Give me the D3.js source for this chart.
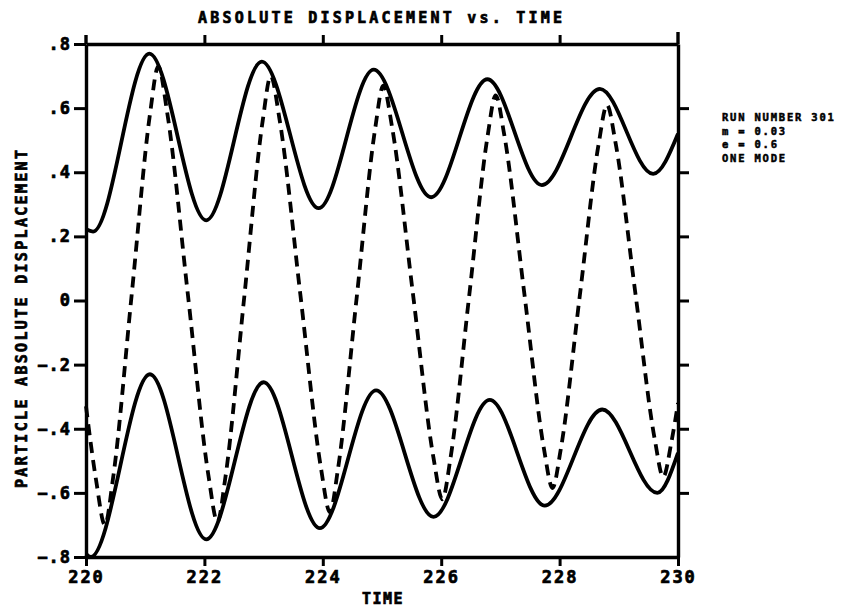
<!DOCTYPE html>
<html>
<head>
<meta charset="utf-8">
<script src="https://cdn.jsdelivr.net/npm/d3@7"></script>
<style>
  body { margin: 0; background: #fff; }
  text { font-family: "DejaVu Sans Mono", monospace; font-weight: bold; fill: #000; stroke: #000; stroke-width: 0.7px; }
</style>
</head>
<body>
<svg id="chart" width="843" height="611"></svg>
<script>
// time ticks and displacement ticks
var timeTicks = [220, 222, 224, 226, 228, 230];
var dispTicks = [-0.8, -0.6, -0.4, -0.2, 0, 0.2, 0.4, 0.6, 0.8];

// upper envelope (solid)
var upperTime = [220.00, 220.12, 221.07, 222.03, 222.97, 223.93, 224.86, 225.83, 226.78, 227.70, 228.68, 229.58, 230.00];
var upperDisp = [0.222, 0.215, 0.77, 0.25, 0.745, 0.288, 0.72, 0.322, 0.69, 0.36, 0.66, 0.395, 0.52];

// lower envelope (solid)
var lowerTime = [220.00, 220.08, 221.08, 222.03, 223.00, 223.95, 224.90, 225.87, 226.82, 227.75, 228.72, 229.65, 230.00];
var lowerDisp = [-0.79, -0.80, -0.23, -0.745, -0.255, -0.71, -0.28, -0.675, -0.31, -0.64, -0.34, -0.60, -0.475];

// particle displacement (dashed)
var partTime = [220.00, 220.17, 220.32, 220.455, 220.77, 221.085, 221.22, 221.37, 221.72, 222.07, 222.22,
                222.355, 222.67, 222.985, 223.12, 223.27, 223.62, 223.97, 224.12,
                224.255, 224.57, 224.885, 225.02, 225.17, 225.52, 225.87, 226.02,
                226.155, 226.47, 226.785, 226.92, 227.064, 227.40, 227.736, 227.88,
                228.018, 228.34, 228.662, 228.80, 228.943, 229.275, 229.608, 229.75,
                229.89, 230.00];
var partDisp = [-0.33, -0.56, -0.70, -0.557, 0.015, 0.587, 0.73, 0.588, 0.02, -0.548, -0.69,
                -0.551, 0.005, 0.561, 0.70, 0.564, 0.02, -0.524, -0.66,
                -0.527, 0.005, 0.537, 0.67, 0.541, 0.025, -0.491, -0.62,
                -0.494, 0.01, 0.514, 0.64, 0.518, 0.028, -0.463, -0.585,
                -0.466, 0.013, 0.491, 0.61, 0.494, 0.03, -0.434, -0.55,
                -0.44, -0.32];

var legendLines = ["RUN NUMBER 301", "m = 0.03", "e = 0.6", "ONE MODE"];

var svg = d3.select("svg#chart");

var x = d3.scaleLinear().domain([220, 230]).range([86, 678]);
var y = d3.scaleLinear().domain([-0.8, 0.8]).range([557, 44]);

function zip(ts, vs) { return ts.map(function(t, i) { return [t, vs[i]]; }); }

var line = d3.line()
    .x(function(d) { return x(d[0]); })
    .y(function(d) { return y(d[1]); })
    .curve(d3.curveMonotoneX);

// curves
svg.append("path").datum(zip(upperTime, upperDisp))
    .attr("d", line).attr("fill", "none").attr("stroke", "#000").attr("stroke-width", 3.8);
svg.append("path").datum(zip(lowerTime, lowerDisp))
    .attr("d", line).attr("fill", "none").attr("stroke", "#000").attr("stroke-width", 3.8);
svg.append("path").datum(zip(partTime, partDisp))
    .attr("d", line).attr("fill", "none").attr("stroke", "#000").attr("stroke-width", 3.8)
    .attr("stroke-dasharray", "11,7");

function fmtDisp(d) {
  if (d === 0) return "0";
  return d3.format(".1f")(d).replace("0.", ".");
}

// axes
var axLeft = svg.append("g").attr("transform", "translate(" + x(220) + ",0)")
    .call(d3.axisLeft(y).tickValues(dispTicks).tickFormat(fmtDisp).tickSize(12).tickPadding(3).tickSizeOuter(0));
var axBottom = svg.append("g").attr("transform", "translate(0," + y(-0.8) + ")")
    .call(d3.axisBottom(x).tickValues(timeTicks).tickFormat(d3.format("d")).tickSize(9).tickPadding(5).tickSizeOuter(0));
var axTop = svg.append("g").attr("transform", "translate(0," + y(0.8) + ")")
    .call(d3.axisTop(x).tickValues(timeTicks.slice(1, -1)).tickFormat("").tickSize(9).tickSizeOuter(0));
var axRight = svg.append("g").attr("transform", "translate(" + x(230) + ",0)")
    .call(d3.axisRight(y).tickValues(dispTicks.slice(1, -1)).tickFormat("").tickSize(11).tickSizeOuter(0));

[axLeft, axBottom, axTop, axRight].forEach(function(g) {
  g.attr("font-family", null).attr("font-size", null);
  g.select(".domain").attr("stroke", "#000").attr("stroke-width", 3.4);
  g.selectAll(".tick line").attr("stroke", "#000").attr("stroke-width", 3);
});

// side axes run a bit past the top frame
svg.append("line").attr("x1", x(220)).attr("x2", x(220)).attr("y1", y(0.8) - 9).attr("y2", y(0.8))
    .attr("stroke", "#000").attr("stroke-width", 3.4);
svg.append("line").attr("x1", x(230)).attr("x2", x(230)).attr("y1", y(0.8) - 12).attr("y2", y(0.8))
    .attr("stroke", "#000").attr("stroke-width", 3.4);

axLeft.selectAll(".tick text").style("font-size", "17px").style("letter-spacing", "1px");
axBottom.selectAll(".tick text").style("font-size", "17px").style("letter-spacing", "2px");

// titles
svg.append("text").attr("x", 380).attr("y", 23).attr("text-anchor", "middle")
    .style("font-size", "15px").attr("textLength", 364).attr("lengthAdjust", "spacing")
    .text("ABSOLUTE DISPLACEMENT vs. TIME");

svg.append("text").attr("x", 383).attr("y", 604).attr("text-anchor", "middle")
    .style("font-size", "15px").style("letter-spacing", "1.5px")
    .text("TIME");

svg.append("text").attr("transform", "translate(27,319) rotate(-90)").attr("text-anchor", "middle")
    .style("font-size", "15px").attr("textLength", 338).attr("lengthAdjust", "spacing")
    .text("PARTICLE ABSOLUTE DISPLACEMENT");

// run info
var legend = svg.append("g").attr("transform", "translate(722,121)");
legend.selectAll("text").data(legendLines).enter().append("text")
    .attr("x", 0).attr("y", function(d, i) { return i * 13.7; })
    .style("font-size", "10.5px").style("letter-spacing", "1.8px").style("stroke-width", "0.5px")
    .text(function(d) { return d; });
</script>
</body>
</html>
